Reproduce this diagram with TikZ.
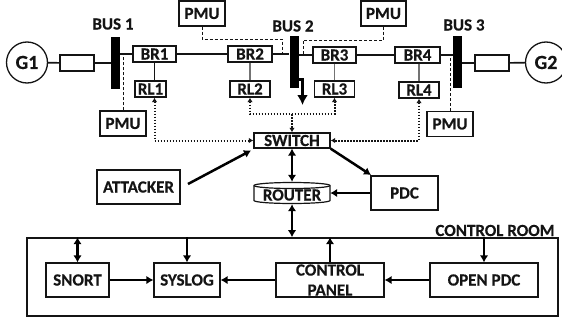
\documentclass[tikz,border=0pt]{standalone}
\usepackage{fontspec}
\setmainfont{Carlito}[BoldFeatures={FakeBold=0.4}]
\usetikzlibrary{arrows.meta}
\definecolor{ink}{gray}{0.08}
\tikzset{
  box/.style={draw=ink,line width=1.3pt,fill=white,inner sep=0pt,font=\bfseries\fontsize{17}{20}\selectfont,text=ink,align=center},
  lbl/.style={inner sep=0pt,font=\bfseries\fontsize{17}{20}\selectfont,text=ink},
  busbar/.style={fill=black,draw=none,inner sep=0pt,minimum width=9pt,minimum height=52pt},
  wire/.style={draw=ink,line width=1.6pt},
  tie/.style={draw=black!55,line width=1.1pt},
  pmuline/.style={draw=ink,line width=.8pt,dash pattern=on 3pt off 2pt},
  sig/.style={draw=ink,line width=2pt,dash pattern=on 1.6pt off 1.4pt,{Latex[length=4.5pt,width=5.5pt]}-{Latex[length=4.5pt,width=5.5pt]}},
  sigone/.style={draw=ink,line width=2pt,dash pattern=on 1.6pt off 1.4pt,-{Latex[length=4.5pt,width=5.5pt]}},
  flow/.style={draw=black,line width=2.5pt,-{Latex[length=7pt,width=8.5pt]}},
  dflow/.style={draw=black,line width=2.5pt,{Latex[length=7pt,width=8.5pt]}-{Latex[length=7pt,width=8.5pt]}},
}
\begin{document}
\begin{tikzpicture}[x=1pt,y=-1pt]
\useasboundingbox (0,0) rectangle (562,324);
% control room
\node[box,line width=1.6pt,minimum width=531pt,minimum height=78pt] (room) at (292.5,277) {};
\node[lbl] (roomlabel) at (495,230.5) {CONTROL ROOM};
% generators and transformers
\node[box,circle,minimum size=41pt,font=\bfseries\fontsize{20}{20}\selectfont] (g1) at (27,62.5) {G1};
\node[box,circle,minimum size=41pt,font=\bfseries\fontsize{20}{20}\selectfont] (g2) at (546,62.5) {G2};
\node[box,minimum width=34pt,minimum height=16pt] (t1) at (77,63) {};
\node[box,minimum width=34pt,minimum height=16pt] (t2) at (492,63) {};
% buses
\node[busbar] (bus1) at (115.5,63) {};
\node[busbar] (bus2) at (294,62) {};
\node[busbar] (bus3) at (457.5,62) {};
\node[lbl] (l1) at (113,24) {BUS 1};
\node[lbl] (l2) at (293,26) {BUS 2};
\node[lbl] (l3) at (464,25) {BUS 3};
% breakers and relays
\node[box,minimum width=43pt,minimum height=16pt] (br1) at (154.5,54) {BR1};
\node[box,minimum width=44pt,minimum height=16pt] (br2) at (250,54) {BR2};
\node[box,minimum width=43pt,minimum height=16pt] (br3) at (334.5,55) {BR3};
\node[box,minimum width=45pt,minimum height=16pt] (br4) at (417.5,55) {BR4};
\node[box,minimum width=31pt,minimum height=16pt] (rl1) at (150.5,89) {RL1};
\node[box,minimum width=40pt,minimum height=16pt] (rl2) at (250,89) {RL2};
\node[box,minimum width=40pt,minimum height=16pt] (rl3) at (334.5,89) {RL3};
\node[box,minimum width=40pt,minimum height=16pt] (rl4) at (419,90) {RL4};
% PMUs
\node[box,minimum width=46pt,minimum height=25pt] (pmu1) at (123,123.5) {PMU};
\node[box,minimum width=46pt,minimum height=25pt] (pmu2) at (202,13.5) {PMU};
\node[box,minimum width=45pt,minimum height=25pt] (pmu3) at (383.5,13.5) {PMU};
\node[box,minimum width=46pt,minimum height=25pt] (pmu4) at (450,124) {PMU};
% network
\node[box,minimum width=76pt,minimum height=15pt] (switch) at (292,140.5) {SWITCH};
\node[inner sep=0pt,minimum width=76pt,minimum height=22pt] (router) at (292,193) {};
\draw[draw=ink,line width=1.2pt,fill=white] (254,185.5) arc[x radius=38,y radius=-3,start angle=180,end angle=0] -- (330,200.5) arc[x radius=38,y radius=3,start angle=0,end angle=180] -- cycle;
\draw[draw=ink,line width=1.2pt] (254,185.5) arc[x radius=38,y radius=3,start angle=180,end angle=0];
\node[lbl] (routertext) at (292,195) {ROUTER};
\node[box,minimum width=83pt,minimum height=34pt] (attacker) at (138.5,187) {ATTACKER};
\node[box,minimum width=67pt,minimum height=34pt] (pdc) at (404.5,193) {PDC};
% control room contents
\node[box,minimum width=63pt,minimum height=34pt] (snort) at (77.5,280) {SNORT};
\node[box,minimum width=66pt,minimum height=34pt] (syslog) at (187,280) {SYSLOG};
\node[box,minimum width=108pt,minimum height=34pt] (panel) at (330,280) {CONTROL\\PANEL};
\node[box,minimum width=108pt,minimum height=34pt] (opdc) at (484,280) {OPEN PDC};
% free ends
\coordinate (hub) at (292,114);
\coordinate (tap1) at (123,54);
\coordinate (tap2) at (282,54);
\coordinate (tap3) at (303,54);
\coordinate (tap4) at (450,54);
\coordinate (knee2) at (282,39);
\coordinate (knee3) at (303,40);
\coordinate (busout) at (298.5,79);
\coordinate (busknee) at (302.5,79);
\coordinate (busend) at (302.5,105);
\coordinate (atkfrom) at (188,184);
\coordinate (atkto) at (251,150.5);
\coordinate (pdcto) at (371,175);
% power line
\path[wire] (g1) -- (t1);
\path[wire] (t1) -- (bus1.west |- t1.east);
\path[wire] (bus1.east |- br1.west) -- (br1.west);
\path[wire] (br1) -- (br2);
\path[wire] (br2) -- (bus2.west |- br2.east);
\path[wire] (bus2.east |- br3.west) -- (br3.west);
\path[wire] (br3) -- (br4);
\path[wire] (br4) -- (bus3.west |- br4.east);
\path[wire] (bus3.east |- t2.west) -- (t2);
\path[wire] (t2) -- (g2);
% breaker to relay
\draw[draw=ink,line width=.8pt] (rl1.north -| br1.south) -- (br1.south);
\draw[tie] (br2) -- (rl2);
\draw[tie] (br3) -- (rl3);
\draw[tie] (br4.south -| rl4.north) -- (rl4);
% PMU taps
\draw[pmuline] (pmu1.north) -- (tap1);
\draw[pmuline] (pmu2.south) -- (pmu2.south |- knee2) -- (knee2) -- (tap2);
\draw[pmuline] (pmu3.south) -- (pmu3.south |- knee3) -- (knee3) -- (tap3);
\draw[pmuline] (pmu4.north) -- (tap4);
% relay signalling
\draw[sig] (rl1.south -| br1.south) -- (br1.south |- switch.west) -- (switch.west);
\draw[sig] (rl2.south) -- (rl2.south |- hub) -- (rl3.south |- hub) -- (rl3.south);
\draw[sigone] (hub) -- (switch.north);
\draw[sig] (rl4.south) -- (rl4.south |- switch.east) -- (switch.east);
% bus 2 out
\draw[draw=black,line width=3pt,-{Latex[length=10pt,width=11pt]}] (busout) -- (busknee) -- (busend);
% data flows
\draw[flow] (atkfrom) -- (atkto);
\draw[dflow] (switch.south) -- (router.north);
\draw[dflow] (router.south) -- (router.south |- room.north);
\draw[flow] (switch.south east) -- (pdcto);
\draw[flow] (pdc.west) -- (router.east);
\draw[dflow] (snort.north) -- (snort.north |- room.north);
\draw[flow] (syslog.north |- room.north) -- (syslog.north);
\draw[flow] (panel.north) -- (panel.north |- room.north);
\draw[flow] (opdc.north |- room.north) -- (opdc.north);
\draw[flow] (snort.east) -- (syslog.west);
\draw[flow] (panel.west) -- (syslog.east);
\draw[flow] (opdc.west) -- (panel.east);
\end{tikzpicture}
\end{document}
